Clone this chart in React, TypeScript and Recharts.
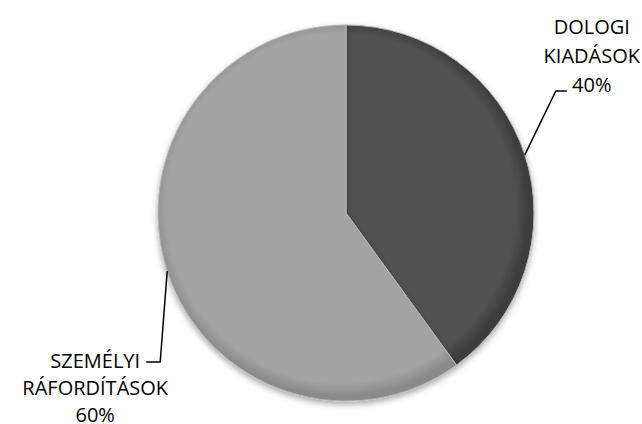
import { PieChart, Pie, Cell } from 'recharts'

const names = ['DOLOGI KIADÁSOK', 'SZEMÉLYI RÁFORDÍTÁSOK']
const labelLines = [['DOLOGI', 'KIADÁSOK'], ['SZEMÉLYI', 'RÁFORDÍTÁSOK']]
const values = [40, 60]

const data = names.map((name, i) => ({ name, value: values[i] }))

const COLORS = ['#515151', '#a3a3a3']
const RIMS = ['#3c3c3c', '#8a8a8a']
const CX = 341
const CY = 208
const R = 188
const RADIAN = Math.PI / 180
const FONT = '"Open Sans", "Noto Sans", sans-serif'

// leader elbow / text placement, relative to the slice's outer mid point
const PLACE = [
  { elbow: [31, -64], end: [42, -64], textX: 67, lines: [-121, -92, -63] },
  { elbow: [-7, 91], end: [-21, 91], textX: -72, lines: [97, 124, 151] },
]

const renderLabel = (props: any) => {
  const { cx, cy, midAngle, outerRadius, index, percent } = props
  const ax = cx + outerRadius * Math.cos(-midAngle * RADIAN)
  const ay = cy + outerRadius * Math.sin(-midAngle * RADIAN)
  const p = PLACE[index]
  const texts = [...labelLines[index], `${Math.round(percent * 100)}%`]
  return (
    <g key={`lbl-${index}`}>
      <polyline
        points={`${ax},${ay} ${ax + p.elbow[0]},${ay + p.elbow[1]} ${ax + p.end[0]},${ay + p.end[1]}`}
        fill="none"
        stroke="#000"
        strokeWidth={1.5}
      />
      {texts.map((t, i) => (
        <text
          key={i}
          x={ax + p.textX}
          y={ay + p.lines[i]}
          textAnchor="middle"
          fontFamily={FONT}
          fontSize={20}
          fill="#000"
        >
          {t}
        </text>
      ))}
    </g>
  )
}

export default function App() {
  return (
    <div style={{ position: 'absolute', left: 0, top: 0, background: '#fff' }}>
      <PieChart width={642} height={424}>
        <defs>
          <filter id="shadow" x="-20%" y="-20%" width="140%" height="140%">
            <feDropShadow dx="0" dy="3" stdDeviation="3" floodColor="#000" floodOpacity="0.35" />
          </filter>
          {COLORS.map((c, i) => (
            <radialGradient key={i} id={`grad${i}`} gradientUnits="userSpaceOnUse" cx={CX} cy={CY} r={R}>
              <stop offset="0%" stopColor={c} />
              <stop offset="93%" stopColor={c} />
              <stop offset="100%" stopColor={RIMS[i]} />
            </radialGradient>
          ))}
        </defs>
        <Pie
          data={data}
          dataKey="value"
          cx={CX}
          cy={CY}
          outerRadius={R}
          startAngle={90}
          endAngle={-270}
          isAnimationActive={false}
          label={renderLabel}
          labelLine={false}
        >
          {data.map((_, i) => (
            <Cell
              key={i}
              fill={`url(#grad${i})`}
              stroke="#b5b5b5"
              strokeWidth={1}
              style={{ filter: 'url(#shadow)' }}
            />
          ))}
        </Pie>
      </PieChart>
    </div>
  )
}
